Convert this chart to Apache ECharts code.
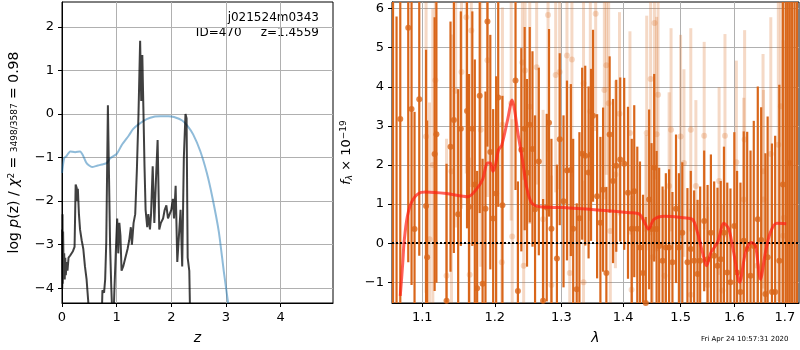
<!DOCTYPE html>
<html>
<head>
<meta charset="utf-8">
<script src="https://cdn.jsdelivr.net/npm/echarts@6/dist/echarts.min.js"></script>
<style>
  html, body { margin: 0; padding: 0; background: #fff; }
  #chart { width: 800px; height: 350px; }
</style>
</head>
<body>
<div id="chart"></div>
<script>
// left panel: p(z) curves
const pzZ = [0, 0.04, 0.08, 0.15, 0.24, 0.33, 0.38, 0.45, 0.55, 0.64, 0.73, 0.82, 0.88, 1.0, 1.1, 1.22, 1.3, 1.4, 1.55, 1.7, 1.8, 1.95, 2.05, 2.2, 2.3, 2.4, 2.53, 2.65, 2.75, 2.87, 2.96, 3.04]
const pzLogP = [-1.35, -1.01, -0.97, -0.86, -0.88, -0.86, -0.94, -1.13, -1.22, -1.19, -1.16, -1.13, -1.02, -0.92, -0.7, -0.5, -0.35, -0.24, -0.12, -0.06, -0.05, -0.05, -0.07, -0.15, -0.28, -0.47, -0.85, -1.35, -1.9, -2.7, -3.6, -4.34]

const chiZ = [0, 0.005, 0.01, 0.015, 0.02, 0.03, 0.04, 0.05, 0.06, 0.07, 0.085, 0.1, 0.12, 0.15, 0.2, 0.23, 0.25, 0.27, 0.28, 0.29, 0.31, 0.33, 0.36, 0.39, 0.42, 0.45, 0.48, 0.5, 0.72, 0.74, 0.77, 0.79, 0.81, 0.84, 0.86, 0.88, 0.9, 0.92, 0.94, 0.96, 0.99, 1.01, 1.03, 1.05, 1.07, 1.09, 1.12, 1.16, 1.2, 1.23, 1.26, 1.28, 1.31, 1.34, 1.37, 1.4, 1.43, 1.45, 1.47, 1.49, 1.51, 1.53, 1.56, 1.58, 1.61, 1.63, 1.66, 1.69, 1.72, 1.75, 1.78, 1.81, 1.85, 1.88, 1.91, 1.94, 1.97, 2.0, 2.03, 2.05, 2.08, 2.11, 2.14, 2.17, 2.2, 2.23, 2.26, 2.28, 2.3, 2.33, 2.35]
const chiLogP = [-2.65, -4.0, -2.3, -3.9, -2.7, -3.6, -3.2, -3.8, -3.3, -3.7, -3.4, -3.6, -3.3, -3.25, -3.15, -3.05, -1.62, -1.7, -2.0, -1.72, -2.3, -2.65, -2.9, -3.1, -3.5, -3.8, -4.3, -5, -5, -4.05, -4.1, -3.8, -2.95, 0.2, -1.4, -3.0, -3.9, -4.6, -4.8, -4.0, -3.0, -2.4, -3.2, -2.5, -2.8, -3.6, -3.5, -3.3, -3.1, -2.9, -2.6, -3.0, -2.5, -2.3, -1.3, 0.0, 1.68, 0.3, 1.35, 0.1, -1.2, -2.2, -2.6, -2.3, -2.65, -2.3, -1.2, -2.5, -1.5, -0.6, -2.65, -2.5, -2.4, -2.2, -2.1, -2.4, -2.3, -2.2, -1.95, -2.4, -1.65, -3.4, -2.8, -2.2, -3.5, -1.0, 0.0, -0.1, -3.3, -3.6, -5]

const zTicks = [0, 1, 2, 3, 4]
const logpTicks = [-4, -3, -2, -1, 0, 1, 2]

// right panel: spectrum
const waveHi = [1.0620, 1.0665, 1.0713, 1.0816, 1.0859, 1.0898, 1.0960, 1.1050, 1.1064, 1.1164, 1.1188, 1.1325, 1.1379, 1.1425, 1.1484, 1.1521, 1.1607, 1.1634, 1.1681, 1.1716, 1.1749, 1.1785, 1.1826, 1.1867, 1.1895, 1.1936, 1.1977, 1.2020, 1.2050, 1.2111, 1.2303, 1.2338, 1.2389, 1.2439, 1.2474, 1.2515, 1.2556, 1.2595, 1.2652, 1.2717, 1.2773, 1.2808, 1.2845, 1.2930, 1.2974, 1.3033, 1.3087, 1.3148, 1.3185, 1.3241, 1.3284, 1.3328, 1.3377, 1.3431, 1.3471, 1.3503, 1.3569, 1.3623, 1.3667, 1.3721, 1.3775, 1.3831, 1.3885, 1.3951, 1.4018, 1.4082, 1.4146, 1.4188, 1.4240, 1.4286, 1.4339, 1.4386, 1.4444, 1.4486, 1.4532, 1.4574, 1.4619, 1.4679, 1.4737, 1.4795, 1.4854, 1.4918, 1.4970, 1.5031, 1.5124, 1.5185, 1.5246, 1.5309, 1.5357, 1.5431, 1.5494, 1.5556, 1.5617, 1.5680, 1.5741, 1.5802, 1.5865, 1.5926, 1.6000, 1.6053, 1.6118, 1.6182, 1.6249, 1.6314, 1.6378, 1.6457, 1.6524, 1.6608, 1.6653, 1.6739, 1.6804, 1.6888, 1.6960, 1.7020, 1.7060, 1.7102, 1.7150, 1.7200, 1.7250]
const fluxHi = [7.0, -2.2, 3.18, 5.51, 3.43, 0.36, 3.68, 0.95, -0.36, 2.28, 2.79, -1.47, 2.47, 3.15, 0.74, 2.93, 3.38, 0.93, 2.93, 1.5, -1.15, 3.77, -1.04, 0.88, 5.67, 2.33, 0.63, 1.27, 3.73, 0.97, 4.16, -1.22, 2.39, 2.93, 1.8, 3.03, 2.41, 0.87, 2.09, -1.47, 0.91, 3.08, 0.37, -0.39, 2.66, 1.07, 1.86, 1.87, 0.37, -1.18, 0.64, 2.29, 2.24, 1.81, 2.26, 3.26, 1.2, 0.52, 1.37, -0.76, 2.78, 1.59, 1.98, 2.14, 2.03, 1.29, 0.37, 1.33, 0.37, -0.11, -0.76, -1.53, 1.12, 0.36, 1.93, 0.36, -0.07, -0.45, -0.11, -0.11, -0.49, 0.88, -0.11, 0.27, -0.49, -0.15, -0.45, -0.79, -0.45, 0.57, -0.41, 0.27, -0.32, -0.58, -0.41, 0.27, -0.75, -1.0, 0.44, -0.75, -1.25, 0.06, -0.15, -0.83, -0.07, 0.61, 0.08, -1.3, -0.36, -1.25, -1.25, -0.45, 1.5, 8, -3, 2.05, 7, -3, 7]
const errHi = [9, 8, 5, 6, 4.5, 3, 4, 4, 3.5, 3.5, 3.8, 3.5, 3.2, 3.4, 3.2, 3.0, 3.0, 3.4, 3.0, 3.2, 3.0, 3.0, 3.2, 3.0, 3.2, 3.0, 2.8, 3.0, 2.8, 2.8, 2.8, 2.8, 2.6, 2.6, 2.4, 2.5, 2.5, 2.4, 2.4, 2.6, 2.4, 2.4, 2.3, 2.4, 2.2, 2.2, 2.3, 2.2, 2.3, 2.2, 2.2, 2.2, 2.3, 2.2, 2.2, 2.2, 2.1, 2.2, 2.1, 2.2, 2.0, 2.1, 2.2, 2.1, 2.2, 2.2, 2.3, 2.2, 2.1, 2.2, 2.0, 2.2, 2.3, 2.2, 2.4, 2.0, 2.0, 1.9, 1.9, 2.0, 1.8, 1.9, 1.9, 1.8, 1.9, 2.0, 1.8, 1.9, 1.9, 1.8, 1.9, 2.0, 1.9, 2.0, 2.0, 2.2, 2.3, 2.4, 2.4, 2.6, 2.8, 2.8, 3.0, 3.2, 3.2, 3.4, 3.4, 3.6, 3.6, 3.8, 4.0, 4.5, 6, 10, 10, 6, 10, 10, 10]

const waveLo = [1.1050, 1.1096, 1.1140, 1.1174, 1.1325, 1.1392, 1.1450, 1.1530, 1.1597, 1.1644, 1.1667, 1.1800, 1.1895, 1.2102, 1.2111, 1.2239, 1.2254, 1.2405, 1.2424, 1.2445, 1.2515, 1.2619, 1.2717, 1.2793, 1.2845, 1.2911, 1.2972, 1.3087, 1.3131, 1.3165, 1.3350, 1.3350, 1.3459, 1.3546, 1.3688, 1.3721, 1.3759, 1.3786, 1.3871, 1.3939, 1.4115, 1.4143, 1.4386, 1.4402, 1.4470, 1.4503, 1.4537, 1.4574, 1.4600, 1.4714, 1.4795, 1.4829, 1.5000, 1.5061, 1.5185, 1.5185, 1.5278, 1.5431, 1.5494, 1.5710, 1.5772, 1.5821, 1.6039, 1.6182, 1.6199, 1.6445, 1.6561, 1.6569, 1.6716, 1.6868, 1.6920, 1.6966, 1.6980]
const fluxLo = [2.73, 0.1, 2.0, 4.17, -0.83, 1.84, 3.9, 4.38, 5.78, -0.81, 5.44, 2.9, 4.68, -0.49, 3.03, 3.58, 0.17, 4.62, -0.58, 4.42, 3.49, 4.5, 0.61, 5.84, -1.07, 4.3, 4.38, 4.8, -0.76, 4.7, 4.09, -1.0, 3.37, 5.87, 3.92, 4.55, 3.58, 0.31, 1.76, 3.31, 2.82, -1.19, 0.36, 2.82, 4.2, -0.36, 5.63, 2.79, 3.8, -0.83, 1.46, 2.9, 2.73, 2.05, 2.9, -1.32, 1.46, 2.75, -1.07, 1.59, -1.21, 2.75, 2.07, 1.12, 2.65, -0.58, 1.84, 1.12, 2.28, 2.52, 3.5, 0.19, 0.65]
const errLo = [4, 3.5, 4, 4, 3.5, 3.5, 3.5, 3.5, 4, 3, 4, 3.5, 3.5, 3, 3, 3, 3, 3, 3, 3, 3, 3, 2.8, 3.5, 2.8, 3, 3, 3, 2.6, 3, 3, 2.6, 2.8, 3, 2.8, 2.8, 2.6, 2.4, 2.4, 2.6, 2.6, 2.4, 2.4, 3, 4, 2.2, 4, 3, 4, 2.2, 2.4, 2.6, 2.6, 2.4, 2.6, 2.2, 2.2, 2.4, 2, 2.4, 2.2, 2.6, 2.6, 2.6, 2.8, 2.6, 3, 2.8, 3.5, 4, 5, 5, 6]

const modelWave = [1.0713, 1.0745, 1.0763, 1.0806, 1.0872, 1.0983, 1.1046, 1.1325, 1.1620, 1.1735, 1.1826, 1.1895, 1.1936, 1.1973, 1.2005, 1.2055, 1.2100, 1.2187, 1.2254, 1.2289, 1.2338, 1.2405, 1.2465, 1.2540, 1.2667, 1.3020, 1.3569, 1.4115, 1.4277, 1.4365, 1.4435, 1.4528, 1.4714, 1.5061, 1.5216, 1.5309, 1.5401, 1.5476, 1.5556, 1.5680, 1.5802, 1.5895, 1.5988, 1.6103, 1.6215, 1.6327, 1.6412, 1.6510, 1.6608, 1.6706, 1.6837, 1.7029]
const modelFlux = [-1.35, -0.5, 0.05, 0.7, 1.1, 1.3, 1.31, 1.27, 1.19, 1.37, 1.63, 2.05, 2.05, 1.84, 1.97, 2.39, 2.5, 3.16, 3.66, 3.41, 2.82, 2.14, 1.46, 1.04, 0.93, 0.91, 0.85, 0.78, 0.74, 0.53, 0.36, 0.61, 0.69, 0.65, 0.61, 0.27, -0.24, -0.58, -0.24, 0.02, 0.51, 0.36, -0.24, -1.0, -0.24, 0.02, -0.07, -0.92, -0.24, 0.27, 0.51, 0.5]

const waveTicks = [1.1, 1.2, 1.3, 1.4, 1.5, 1.6, 1.7]
const fluxTicks = [-1, 0, 1, 2, 3, 4, 5, 6]

const FONT = 'DejaVu Sans'
const ORANGE = '#d9661a'
const minus = v => String(v).replace('-', '\u2212')

const chart = echarts.init(document.getElementById('chart'))

function axisBase(ticks) {
  return {
    type: 'value',
    axisLine: { show: true, onZero: false, lineStyle: { color: '#000', width: 1 } },
    axisTick: { show: true, length: 4, customValues: ticks, lineStyle: { color: '#000' } },
    axisLabel: { customValues: ticks, color: '#000', fontFamily: FONT, fontSize: 13 },
    splitLine: { show: true, lineStyle: { color: '#b0b0b0', width: 1 } },
  }
}

// vertical error bars through the axis scales
function errBars(wave, flux, err, color, width, z) {
  return {
    type: 'custom',
    xAxisIndex: 1,
    yAxisIndex: 1,
    clip: true,
    z: z,
    silent: true,
    data: wave.map((w, i) => [Math.log10(w), flux[i] - err[i], flux[i] + err[i]]),
    encode: { x: 0, y: [1, 2] },
    renderItem: (params, api) => {
      const lo = api.coord([api.value(0), api.value(1)])
      const hi = api.coord([api.value(0), api.value(2)])
      return {
        type: 'line',
        shape: { x1: lo[0], y1: lo[1], x2: hi[0], y2: hi[1] },
        style: { stroke: color, lineWidth: width },
      }
    },
  }
}

chart.setOption({
  animation: false,
  grid: [
    { left: 62, top: 2, width: 271, height: 302, show: true, borderColor: '#000', borderWidth: 1 },
    { left: 392, top: 2, width: 407, height: 302, show: true, borderColor: '#000', borderWidth: 1 },
  ],
  xAxis: [
    Object.assign(axisBase(zTicks), {
      gridIndex: 0, min: 0, max: 4.96,
      name: 'z', nameLocation: 'middle', nameGap: 28,
      nameTextStyle: { fontFamily: FONT, fontSize: 14, fontStyle: 'italic', color: '#000' },
    }),
    Object.assign(axisBase(waveTicks.map(v => Math.log10(v))), {
      gridIndex: 1, min: Math.log10(1.0607), max: Math.log10(1.7292),
      name: 'λ', nameLocation: 'middle', nameGap: 28,
      nameTextStyle: { fontFamily: FONT, fontSize: 14, fontStyle: 'italic', color: '#000' },
    }),
  ],
  yAxis: [
    Object.assign(axisBase(logpTicks), {
      gridIndex: 0, min: -4.34, max: 2.57,
      name: '{n|log }{i|p}{n|(z) / }{i|χ}{s|2}{n| = }{f|3498/3587}{n| = 0.98}',
      nameLocation: 'middle', nameRotate: 90, nameGap: 40,
      nameTextStyle: {
        color: '#000',
        rich: {
          n: { fontFamily: FONT, fontSize: 14, color: '#000' },
          i: { fontFamily: FONT, fontSize: 14, fontStyle: 'italic', color: '#000' },
          s: { fontFamily: FONT, fontSize: 9, color: '#000', padding: [0, 0, 6, 0] },
          f: { fontFamily: FONT, fontSize: 9, color: '#000' },
        },
      },
    }),
    Object.assign(axisBase(fluxTicks), {
      gridIndex: 1, min: -1.53, max: 6.17,
      name: '{i|f}{b|λ}{n| × 10}{s|−19}',
      nameLocation: 'middle', nameRotate: 90, nameGap: 36,
      nameTextStyle: {
        color: '#000',
        rich: {
          n: { fontFamily: FONT, fontSize: 13, color: '#000' },
          i: { fontFamily: FONT, fontSize: 13, fontStyle: 'italic', color: '#000' },
          b: { fontFamily: FONT, fontSize: 9, fontStyle: 'italic', color: '#000', padding: [6, 0, 0, 0] },
          s: { fontFamily: FONT, fontSize: 9, color: '#000', padding: [0, 0, 6, 0] },
        },
      },
    }),
  ],
  graphic: [
    { type: 'text', right: 800 - 319, top: 12, style: { text: 'j021524m0343', font: '12px "DejaVu Sans"', fill: '#000', textAlign: 'right' } },
    { type: 'text', right: 800 - 319, top: 27, style: { text: 'ID=470     z=1.4559', font: '12px "DejaVu Sans"', fill: '#000', textAlign: 'right' } },
    { type: 'text', left: 701, top: 336, style: { text: 'Fri Apr 24 10:57:31 2020', font: '7px "DejaVu Sans"', fill: '#000' } },
  ],
  series: [
    {
      type: 'line', xAxisIndex: 0, yAxisIndex: 0, clip: true, z: 2,
      data: pzZ.map((z, i) => [z, pzLogP[i]]),
      showSymbol: false, smooth: 0.2,
      lineStyle: { color: 'rgba(31,119,180,0.5)', width: 2 },
    },
    {
      type: 'line', xAxisIndex: 0, yAxisIndex: 0, clip: true, z: 3,
      data: chiZ.map((z, i) => [z, chiLogP[i]]),
      showSymbol: false,
      lineStyle: { color: 'rgba(0,0,0,0.75)', width: 2 },
    },
    errBars(waveLo, fluxLo, errLo, 'rgba(217,102,26,0.25)', 3, 2),
    {
      type: 'scatter', xAxisIndex: 1, yAxisIndex: 1, clip: true, z: 2, silent: true,
      data: waveLo.map((w, i) => [Math.log10(w), fluxLo[i]]),
      symbolSize: 6,
      itemStyle: { color: 'rgba(217,102,26,0.3)' },
    },
    errBars(waveHi, fluxHi, errHi, ORANGE, 2.2, 3),
    {
      type: 'scatter', xAxisIndex: 1, yAxisIndex: 1, clip: true, z: 4, silent: true,
      data: waveHi.map((w, i) => [Math.log10(w), fluxHi[i]]),
      symbolSize: 6,
      itemStyle: { color: ORANGE },
    },
    {
      type: 'line', xAxisIndex: 1, yAxisIndex: 1, clip: true, z: 5,
      data: modelWave.map((w, i) => [Math.log10(w), modelFlux[i]]),
      showSymbol: false, smooth: 0.3,
      lineStyle: { color: 'rgba(255,30,20,0.7)', width: 3 },
      markLine: {
        silent: true, symbol: 'none', label: { show: false },
        lineStyle: { color: '#000', type: [2, 2], width: 2 },
        data: [{ yAxis: 0 }],
      },
    },
  ],
})

chart.setOption({
  xAxis: [
    { axisLabel: { formatter: v => minus(Math.round(v)) } },
    { axisLabel: { formatter: v => Math.pow(10, v).toFixed(1) } },
  ],
  yAxis: [
    { axisLabel: { formatter: v => minus(Math.round(v)) } },
    { axisLabel: { formatter: v => minus(Math.round(v)) } },
  ],
})
</script>
</body>
</html>
